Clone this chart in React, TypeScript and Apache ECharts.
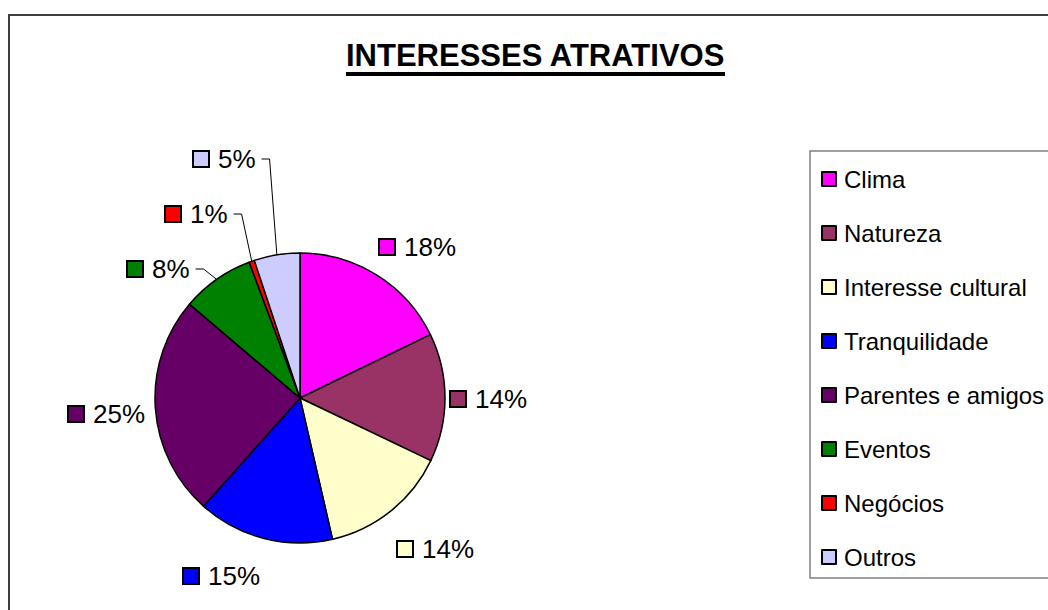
import React, { useEffect, useRef } from "react";
import * as echarts from "echarts";

// ---- data ----
const categories = [
  "Clima",
  "Natureza",
  "Interesse cultural",
  "Tranquilidade",
  "Parentes e amigos",
  "Eventos",
  "Negócios",
  "Outros",
];
const shares = [17.8, 14.3, 14.3, 15.2, 24.6, 8.1, 0.6, 5.1];
const titleText = "INTERESSES ATRATIVOS";

// ---- styles / layout ----
const colors = ["#FF00FF", "#993366", "#FFFFCC", "#0000FF", "#660066", "#008000", "#FF0000", "#CCCCFF"];
const withLeader = [false, false, false, false, false, true, true, true];
// label anchor (left edge, vertical centre) — layout only
const labelAnchors: [number, number][] = [
  [380, 247],
  [451, 399],
  [398, 549],
  [184, 576],
  [69, 414],
  [128, 269],
  [166, 214],
  [194, 159],
];
const FONT = "'Liberation Sans', Arial, sans-serif";

export default function App() {
  const ref = useRef<HTMLDivElement>(null);

  useEffect(() => {
    if (!ref.current) return;
    const chart = echarts.init(ref.current, null, { renderer: "svg" });

    const rich: Record<string, any> = {
      t: { fontSize: 26, lineHeight: 30, color: "#000", fontFamily: FONT, padding: [0, 0, 0, 10] },
    };
    colors.forEach((c, i) => {
      rich["s" + i] = { width: 14, height: 14, backgroundColor: c, borderColor: "#000", borderWidth: 2 };
    });

    const option: any = {
      animation: false,
      backgroundColor: "#fff",
      color: colors,
      title: {
        text: titleText,
        left: 346,
        top: 40,
        padding: 0,
        textStyle: { fontSize: 31, fontWeight: "bold", color: "#000", fontFamily: FONT },
      },
      graphic: [
        {
          type: "rect",
          shape: { x: 9, y: 15, width: 1200, height: 800 },
          style: { fill: "none", stroke: "#404040", lineWidth: 2 },
          silent: true,
        },
        {
          type: "rect",
          shape: { x: 346, y: 72, width: 379, height: 4 },
          style: { fill: "#000" },
          silent: true,
        },
      ],
      legend: {
        orient: "vertical",
        left: 810,
        top: 151,
        padding: [16, 12, 9, 11],
        borderColor: "#808080",
        borderWidth: 1.5,
        itemWidth: 14,
        itemHeight: 14,
        itemGap: 30,
        icon: "rect",
        itemStyle: { borderColor: "#000", borderWidth: 2 },
        textStyle: { fontSize: 24, lineHeight: 24, color: "#000", fontFamily: FONT, padding: [0, 0, 0, 3] },
        data: categories,
      },
      series: [
        {
          type: "pie",
          center: [300, 398],
          radius: 145,
          startAngle: 90,
          clockwise: true,
          percentPrecision: 0,
          avoidLabelOverlap: false,
          itemStyle: { borderColor: "#000", borderWidth: 1.5 },
          emphasis: { disabled: true },
          label: {
            show: true,
            position: "outside",
            formatter: (p: any) => `{s${p.dataIndex}|}{t|${p.percent}%}`,
            rich,
          },
          labelLine: { show: true, length: 8, length2: 8, lineStyle: { color: "#000", width: 1 } },
          labelLayout: (p: any) => {
            const a = labelAnchors[p.dataIndex];
            const res: any = { x: a[0], y: a[1], align: "left", verticalAlign: "middle", hideOverlap: false };
            if (withLeader[p.dataIndex] && p.labelLinePoints && p.labelLinePoints.length) {
              const right = a[0] + p.labelRect.width + 4;
              const edge = p.labelLinePoints[0];
              res.labelLinePoints = [
                [edge[0], edge[1]],
                [right + 8, a[1]],
                [right, a[1]],
              ];
            }
            return res;
          },
          data: categories.map((name, i) => ({
            name,
            value: shares[i],
            labelLine: { show: withLeader[i] },
          })),
        },
      ],
    };
    chart.setOption(option);
    return () => chart.dispose();
  }, []);

  return (
    <div
      ref={ref}
      style={{ position: "fixed", left: 0, top: 0, width: 1048, height: 610, background: "#fff" }}
    />
  );
}
